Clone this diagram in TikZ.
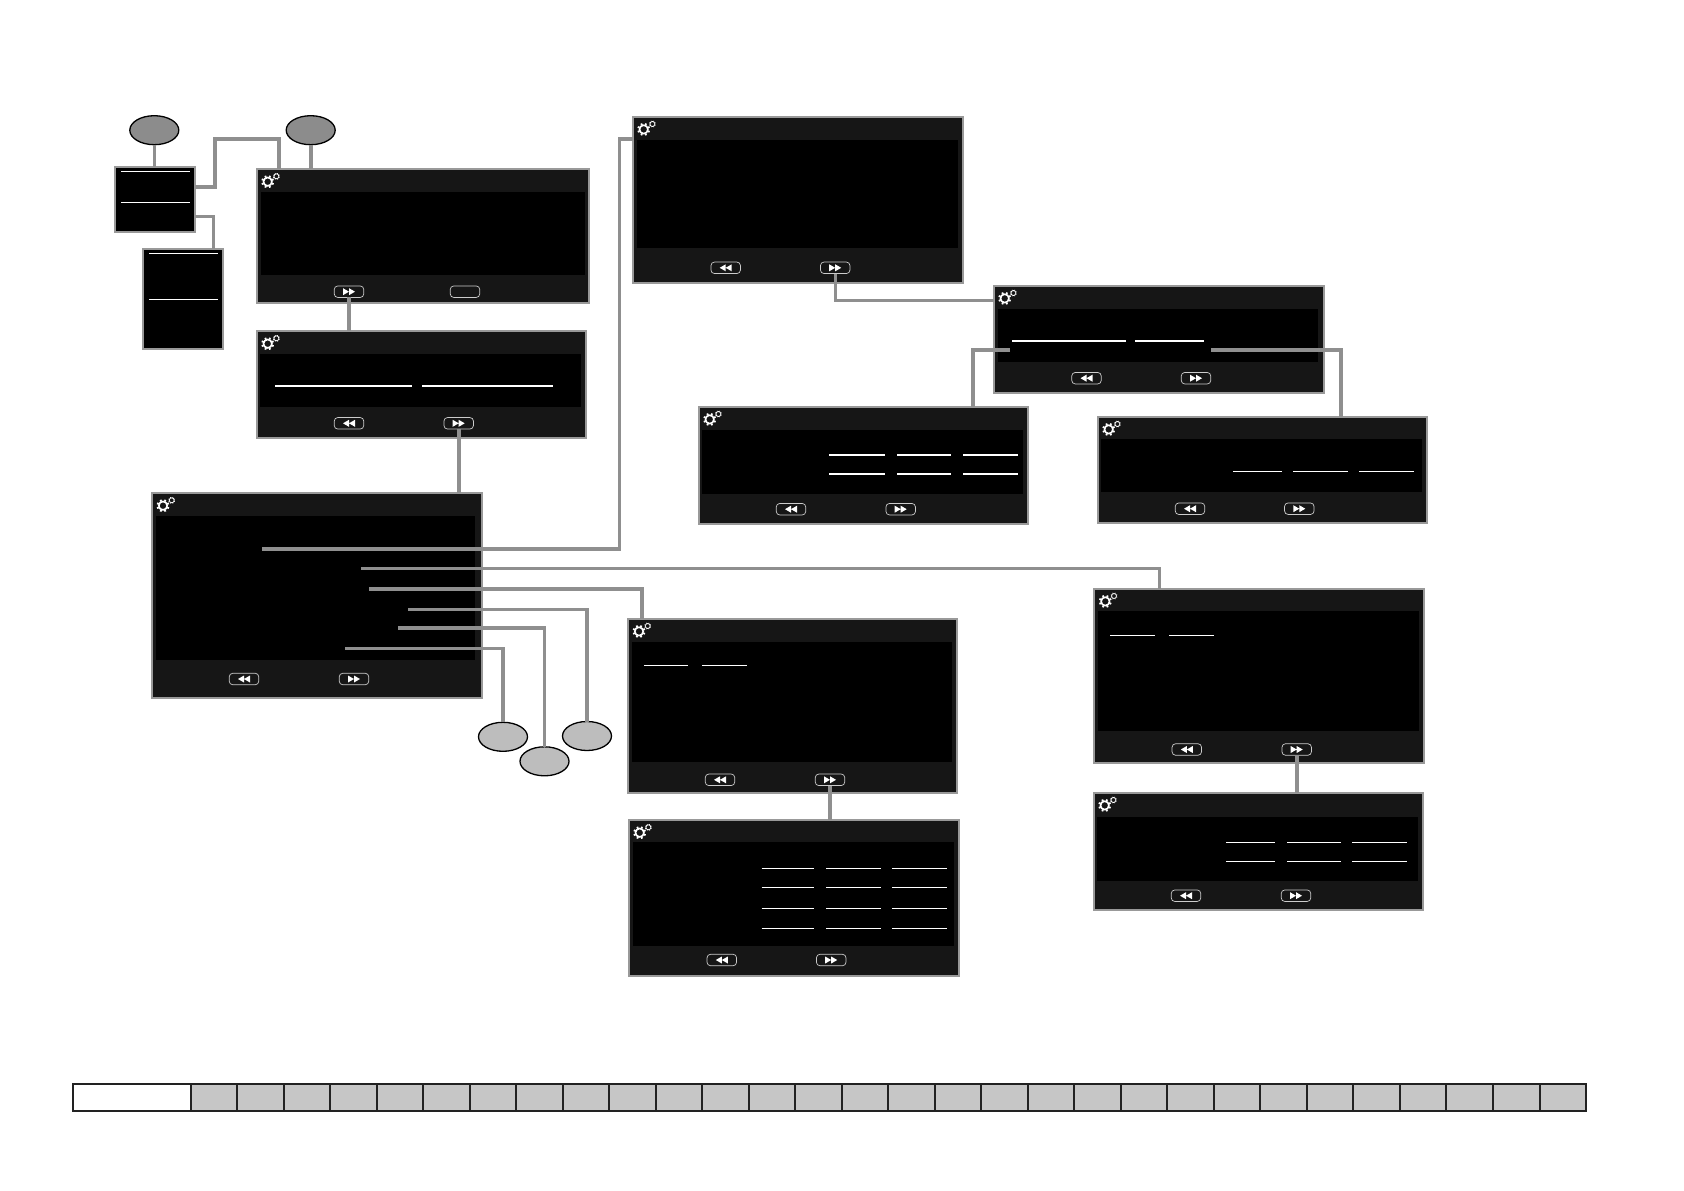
\documentclass[tikz,border=0pt]{standalone}
\usepackage{tikz}
\definecolor{panelbg}{RGB}{22, 22, 22}
\definecolor{edgegrey}{RGB}{153, 153, 153}
\definecolor{linkgrey}{RGB}{143, 143, 143}
\definecolor{dotdark}{RGB}{140, 140, 140}
\definecolor{dotlight}{RGB}{189, 189, 189}
\definecolor{cellgrey}{RGB}{198, 198, 198}
\definecolor{celledge}{RGB}{34, 34, 34}
\usetikzlibrary{shapes.geometric}
\tikzset{
  screen/.style={rectangle, draw=edgegrey, fill=panelbg, line width=2pt, inner sep=0pt, outer sep=0pt, anchor=north west},
  screenin/.style={rectangle, fill=black, inner sep=0pt, outer sep=0pt, anchor=north west},
  listbox/.style={screen, fill=black},
  btn/.style={rectangle, draw=white!80!black, line width=0.7pt, rounded corners=3.5pt, minimum width=29.5pt, minimum height=11.5pt, inner sep=0pt, outer sep=0pt},
  ffbtn/.style={btn, path picture={\fill[white, sharp corners, shift={(path picture bounding box.center)}] (-6,-3.5) -- (0,0) -- (-6,3.5) -- cycle (0,-3.5) -- (6,0) -- (0,3.5) -- cycle;}},
  rwbtn/.style={btn, path picture={\fill[white, sharp corners, shift={(path picture bounding box.center)}] (6,-3.5) -- (0,0) -- (6,3.5) -- cycle (0,-3.5) -- (-6,0) -- (0,3.5) -- cycle;}},
  field/.style={draw=white, line width=1.1pt},
  link/.style={draw=linkgrey, line width=3.6pt},
  thinlink/.style={draw=linkgrey, line width=3pt},
  dot/.style={ellipse, draw=black, line width=1.3pt, minimum width=49pt, minimum height=29pt, inner sep=0pt, outer sep=0pt},
  cell/.style={rectangle, draw=celledge, fill=cellgrey, line width=2pt, minimum width=46.51pt, minimum height=27.6pt, inner sep=0pt, outer sep=0pt},
  gear/.pic={
    \draw[white, line width=1.6pt] (11,12.7) circle (4.2pt);
    \foreach \a in {0,45,...,315} \draw[white, line width=1.8pt] (11,12.7) ++(\a+22.5:4.4) -- ++(\a+22.5:2);
    \draw[white, line width=0.8pt] (19.7,7.3) circle (2.5pt);
    \foreach \a in {0,45,...,315} \draw[white, line width=0.7pt] (19.7,7.3) ++(\a+22.5:2.6) -- ++(\a+22.5:0.8);
  }
}
\newcommand{\screenbox}[9]{
  \node (#1) [screen, minimum width={#4pt-#2pt}, minimum height={#5pt-#3pt}] at (#2,#3) {};
  \node (#1in) [screenin, minimum width={#8pt-#6pt}, minimum height={#9pt-#7pt}] at (#6,#7) {};
  \pic at (#2,#3) {gear};
}
\begin{document}
\begin{tikzpicture}[x=1pt, y=-1pt]
      \useasboundingbox (0,0) rectangle (1684,1191);

      \node (keysa) [listbox, minimum width=80pt, minimum height=65.6pt] at (115,166.7) {};
      \node (keysb) [listbox, minimum width=80pt, minimum height=100.3pt] at (143,248.7) {};
      \draw[field] (121,171.3) -- (190,171.3);
      \draw[field] (121,202.3) -- (190,202.3);
      \draw[field] (149,253.3) -- (218,253.3);
      \draw[field] (149,299.3) -- (218,299.3);

      \screenbox{start}{256.7}{169}{589.3}{303}{260.7}{191.7}{585}{275}
      \screenbox{pair}{256.7}{331}{586}{438}{260}{354}{580.7}{406.7}
      \screenbox{main}{152}{493}{482.3}{698}{156}{516}{475}{660}
      \screenbox{blank}{632.7}{116.7}{963}{283}{637.3}{140}{958}{247.7}
      \screenbox{split}{993.7}{285.7}{1324}{393}{998.3}{309}{1317.7}{361.7}
      \screenbox{tworow}{698.7}{406.7}{1028}{524}{702}{429.7}{1023}{494}
      \screenbox{onerow}{1097.7}{416.7}{1427}{523}{1101}{439}{1422}{491.7}
      \screenbox{lefta}{628}{618.7}{957.3}{793.3}{632}{642}{952.3}{762}
      \screenbox{grid}{628.7}{820}{959.3}{976}{632.7}{842.3}{954}{945.7}
      \screenbox{leftb}{1094.3}{588.7}{1424}{763}{1098}{611}{1419}{731}
      \screenbox{lower}{1093.7}{792.7}{1423.3}{910.3}{1097.3}{816.7}{1418}{881}

      \draw[field] (275,386) -- (412,386);
      \draw[field] (422,386) -- (553,386);
      \draw[field] (1012,341) -- (1126,341);
      \draw[field] (1135,341) -- (1204,341);
      \draw[field] (644,665.3) -- (688,665.3);
      \draw[field] (702,665.3) -- (747,665.3);
      \draw[field] (1110,635.3) -- (1155,635.3);
      \draw[field] (1169,635.3) -- (1214,635.3);
      \foreach \xa/\xb in {1233/1281.7, 1293/1347.7, 1359/1414}
        \draw[field] (\xa,471.3) -- (\xb,471.3);
      \foreach \xa/\xb in {829/885, 897/951.3, 963/1017.7}
        \foreach \ya in {455,474}
          \draw[field] (\xa,\ya) -- (\xb,\ya);
      \foreach \xa/\xb in {761.7/814, 826/881, 892/947}
        \foreach \ya in {868.3,887.3,908.3,928.3}
          \draw[field] (\xa,\ya) -- (\xb,\ya);
      \foreach \xa/\xb in {1226/1274.7, 1287/1341.3, 1352/1407}
        \foreach \ya in {842.3,861.3}
          \draw[field] (\xa,\ya) -- (\xb,\ya);

      \node (startff) [ffbtn] at (349,291.7) {};
      \node (startend) [btn] at (465,291.7) {};
      \node (pairrw) [rwbtn] at (349,423.3) {};
      \node (pairff) [ffbtn] at (458.7,423.3) {};
      \node (mainrw) [rwbtn] at (244,679) {};
      \node (mainff) [ffbtn] at (354,679) {};
      \node (blankrw) [rwbtn] at (725.7,267.8) {};
      \node (blankff) [ffbtn] at (835.2,267.8) {};
      \node (splitrw) [rwbtn] at (1086.5,378.2) {};
      \node (splitff) [ffbtn] at (1196,378.2) {};
      \node (tworowrw) [rwbtn] at (791,509.2) {};
      \node (tworowff) [ffbtn] at (900.7,509.2) {};
      \node (onerowrw) [rwbtn] at (1190,508.7) {};
      \node (onerowff) [ffbtn] at (1299.3,508.7) {};
      \node (leftarw) [rwbtn] at (720,779.8) {};
      \node (leftaff) [ffbtn] at (830,779.8) {};
      \node (gridrw) [rwbtn] at (721.8,960) {};
      \node (gridff) [ffbtn] at (831.2,960) {};
      \node (leftbrw) [rwbtn] at (1186.8,749.5) {};
      \node (leftbff) [ffbtn] at (1296.7,749.5) {};
      \node (lowerrw) [rwbtn] at (1186,895.7) {};
      \node (lowerff) [ffbtn] at (1296,895.7) {};

      \node (dota) [dot, fill=dotdark] at (154.3,130.2) {};
      \node (dotb) [dot, fill=dotdark] at (310.7,130.2) {};
      \node (dotc) [dot, fill=dotlight] at (503,736.8) {};
      \node (dotd) [dot, fill=dotlight] at (544.5,761.3) {};
      \node (dote) [dot, fill=dotlight] at (587,736) {};

      \coordinate (keysaup) at (195,187);
      \coordinate (keysadown) at (195,216.3);
      \coordinate (starttop) at (279,169);
      \coordinate (keysbtop) at (213.3,248.7);
      \coordinate (rowa) at (262,549);
      \coordinate (rowb) at (361,568.3);
      \coordinate (rowc) at (369,588.7);
      \coordinate (rowd) at (408.3,609.3);
      \coordinate (rowe) at (398,628);
      \coordinate (rowf) at (345.3,648.3);
      \coordinate (blankside) at (632.7,138.7);
      \coordinate (leftbtop) at (1159,588.7);
      \coordinate (leftatop) at (642,618.7);
      \coordinate (splitside) at (993.7,300.3);
      \coordinate (splitl) at (1010,349.7);
      \coordinate (splitr) at (1211,349.7);
      \coordinate (tworowtop) at (972.7,406.7);
      \coordinate (onerowtop) at (1341,416.7);

      \draw[link] (dota) -- (dota |- keysa.north);
      \draw[link] (dotb) -- (dotb |- start.north);
      \draw[link] (keysaup) -| ++(20,-48) -| (starttop);
      \draw[thinlink] (keysadown) -| (keysbtop);
      \draw[link] (startff.south) -- (startff.south |- pair.north);
      \draw[link] (pairff.south) -- (pairff.south |- main.north);
      \draw[link] (rowa) -- ++(357.5,0) |- (blankside);
      \draw[thinlink] (rowb) -| (leftbtop);
      \draw[link] (rowc) -| (leftatop);
      \draw[link] (rowd) -| (dote);
      \draw[link] (rowe) -| (dotd);
      \draw[link] (rowf) -| (dotc);
      \draw[thinlink] (blankff.south) |- (splitside);
      \draw[link] (splitl) -| (tworowtop);
      \draw[link] (splitr) -| (onerowtop);
      \draw[link] (leftaff.south) -- (leftaff.south |- grid.north);
      \draw[link] (leftbff.south) -- (leftbff.south |- lower.north);

      \node (barhead) [cell, fill=white, minimum width=118pt] at (131.7,1097.5) {};
      \foreach \i in {1,...,30}
        \node (bar\i) [cell] at ({190.7+46.51*(\i-0.5)},1097.5) {};
    \end{tikzpicture}
\end{document}
